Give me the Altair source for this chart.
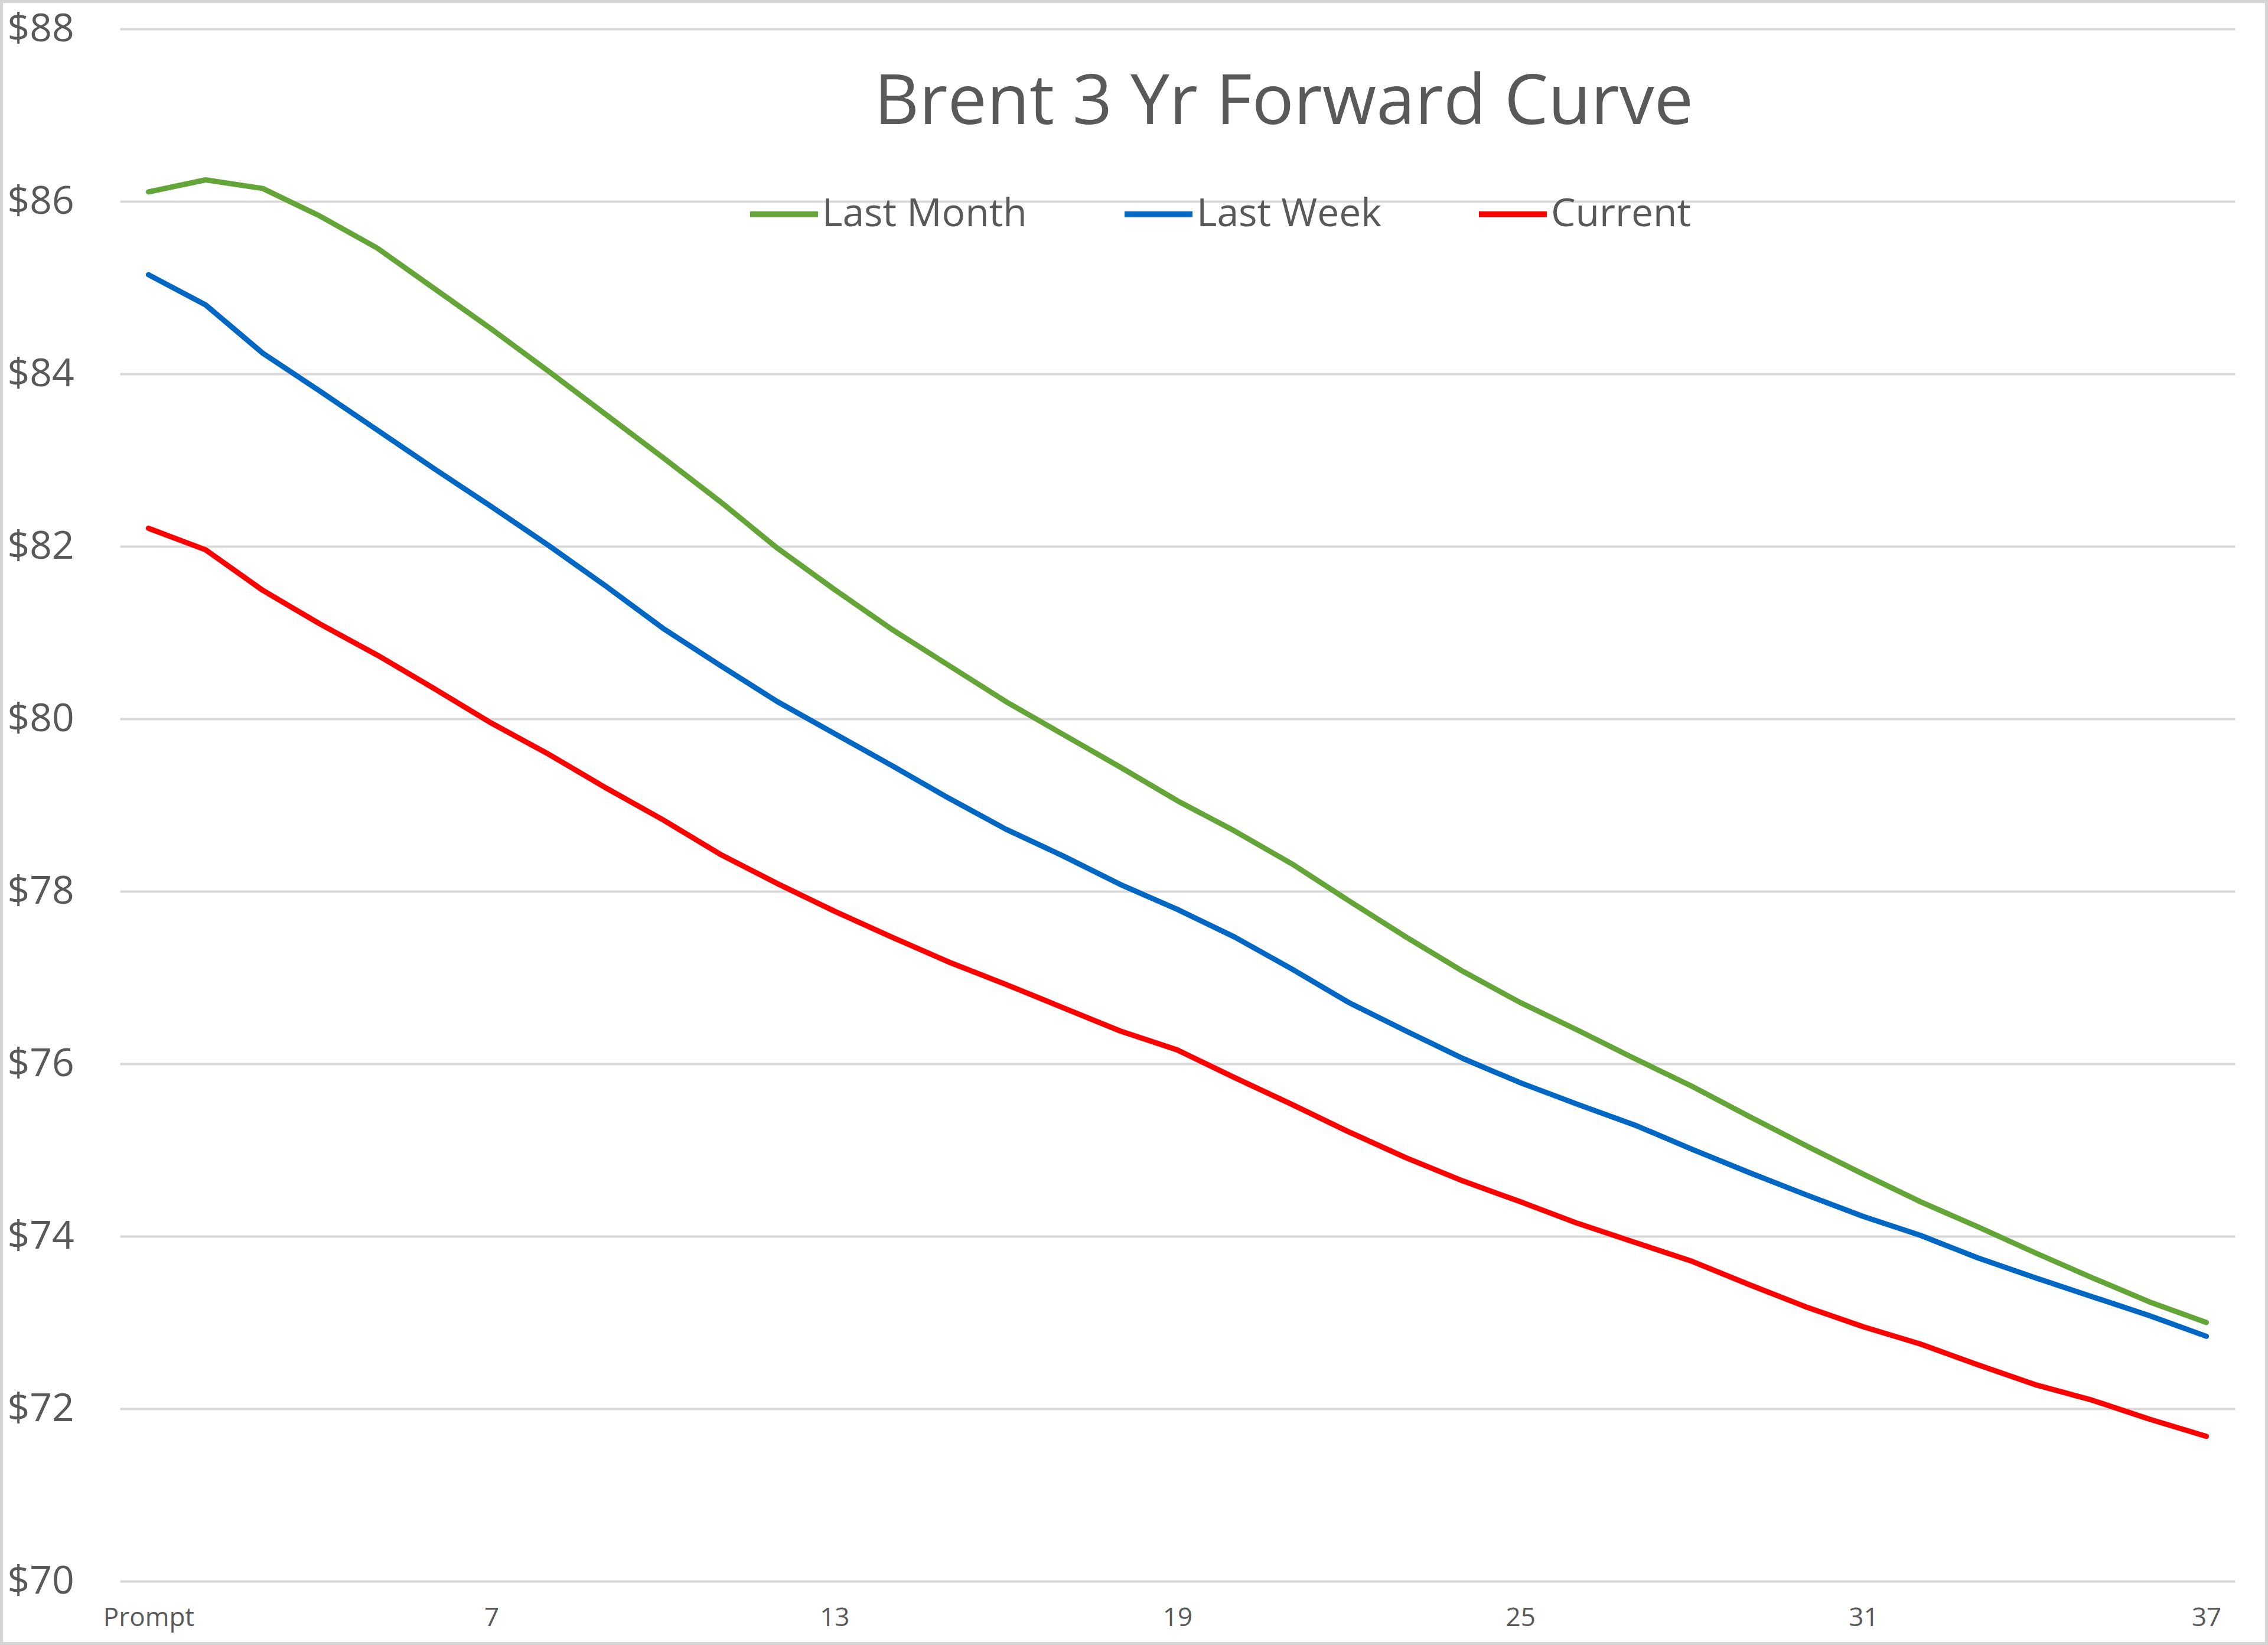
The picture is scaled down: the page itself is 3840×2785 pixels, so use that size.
import altair as alt
import pandas as pd

# x categories: contract months, 1 = Prompt
months = list(range(1, 38))
tick_values = [1, 7, 13, 19, 25, 31, 37]
y_ticks = [70, 72, 74, 76, 78, 80, 82, 84, 86, 88]

series_names = ["Last Month", "Last Week", "Current"]
series_colors = ["#63A537", "#0068C4", "#FF0000"]

last_month = [86.11, 86.25, 86.15, 85.83, 85.46, 84.99, 84.52, 84.03, 83.53,
              83.03, 82.52, 81.98, 81.50, 81.04, 80.62, 80.20, 79.82, 79.44,
              79.05, 78.70, 78.32, 77.89, 77.47, 77.07, 76.71, 76.39, 76.06,
              75.74, 75.39, 75.05, 74.72, 74.40, 74.11, 73.81, 73.52, 73.24, 73.00]
last_week = [85.15, 84.80, 84.24, 83.80, 83.35, 82.90, 82.46, 82.01, 81.54,
             81.05, 80.62, 80.20, 79.83, 79.46, 79.08, 78.72, 78.41, 78.08,
             77.79, 77.47, 77.10, 76.71, 76.38, 76.06, 75.78, 75.53, 75.29,
             75.01, 74.74, 74.48, 74.23, 74.01, 73.75, 73.52, 73.30, 73.08, 72.84]
current = [82.21, 81.96, 81.49, 81.10, 80.74, 80.35, 79.95, 79.59, 79.20,
           78.83, 78.43, 78.09, 77.77, 77.47, 77.18, 76.92, 76.65, 76.38,
           76.16, 75.84, 75.53, 75.21, 74.91, 74.64, 74.40, 74.15, 73.93,
           73.71, 73.44, 73.18, 72.95, 72.75, 72.51, 72.28, 72.10, 71.88, 71.68]

rows = []
for name, vals in zip(series_names, [last_month, last_week, current]):
    for m, v in zip(months, vals):
        rows.append({"month": m, "price": v, "series": name, "order": series_names.index(name)})
df = pd.DataFrame(rows)

FONT = "Open Sans"
GREY = "#595959"

W, H = 3581, 2628
PAD_L, PAD_T, PAD_R, PAD_B = 203, 49, 56, 108

lines = alt.Chart(df).mark_line(strokeWidth=9, strokeCap="round", strokeJoin="round").encode(
    x=alt.X("month:Q",
            scale=alt.Scale(domain=[0.5, 37.5], nice=False, zero=False),
            axis=alt.Axis(values=tick_values, title=None, grid=False, domain=False, ticks=False,
                          labelExpr="datum.value == 1 ? 'Prompt' : datum.value",
                          labelFont=FONT, labelFontSize=44, labelColor=GREY,
                          labelPadding=40, labelBaseline="top")),
    y=alt.Y("price:Q",
            scale=alt.Scale(domain=[70, 88], nice=False, zero=False),
            axis=alt.Axis(values=y_ticks, title=None, format="$,.0f", domain=False, ticks=False,
                          tickSize=0, labelAlign="left", labelPadding=191, labelBaseline="middle",
                          labelFont=FONT, labelFontSize=66, labelColor=GREY,
                          grid=True, gridColor="#D9D9D9", gridWidth=4)),
    color=alt.Color("series:N",
                    scale=alt.Scale(domain=series_names, range=series_colors),
                    legend=alt.Legend(title=None, orient="none", direction="horizontal",
                                      legendX=1062, legendY=251, padding=0,
                                      symbolType="stroke", symbolSize=13225, symbolStrokeWidth=10,
                                      labelFont=FONT, labelFontSize=66, labelColor=GREY,
                                      labelLimit=2000, labelOffset=2, columnPadding=145)),
    order=alt.Order("order:Q"),
    detail="series:N",
)

frame = alt.Chart(pd.DataFrame({"k": [0]})).mark_rect(
    fill=None, stroke="#D4D4D4", strokeWidth=10
).encode(
    x=alt.value(-PAD_L), x2=alt.value(W + PAD_R),
    y=alt.value(-PAD_T), y2=alt.value(H + PAD_B),
)

chart = alt.layer(lines, frame).properties(
    width=W, height=H,
    title=alt.TitleParams("Brent 3 Yr Forward Curve", font=FONT, fontSize=118, fontWeight="normal",
                          color=GREY, anchor="middle", dx=180, offset=-333, baseline="alphabetic"),
    autosize=alt.AutoSizeParams(type="none"),
    padding={"left": PAD_L, "top": PAD_T, "right": PAD_R, "bottom": PAD_B},
    background="white",
).configure_view(stroke=None)

chart.save("out.html", embed_options={"renderer": "svg", "actions": False})
